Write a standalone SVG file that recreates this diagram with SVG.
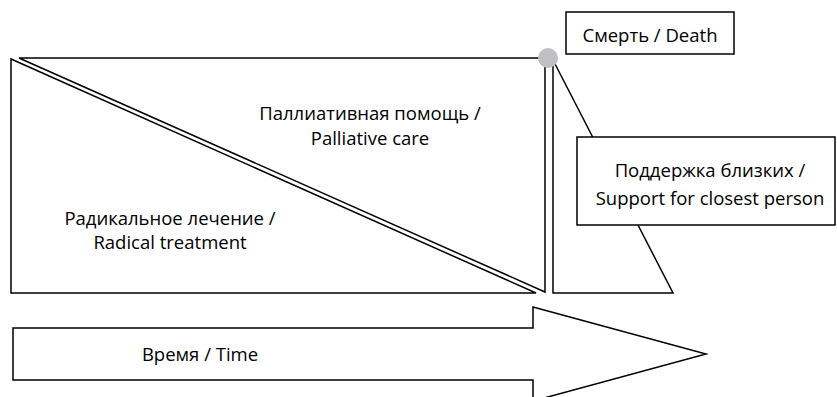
<svg xmlns="http://www.w3.org/2000/svg" width="837" height="397" viewBox="0 0 837 397">
<style>
.s{fill:#fff;stroke:#000;stroke-width:1.5;stroke-linejoin:miter}
.t{font-family:"Open Sans","Liberation Sans",sans-serif;font-size:18.5px;fill:#000;text-anchor:middle}
</style>
<rect width="837" height="397" fill="#fff"/>
<g id="radical">
<polygon class="s" points="11,59 11,293 536,293"/>
<text class="t" x="170" y="225">Радикальное лечение /</text>
<text class="t" x="170" y="249">Radical treatment</text>
</g>
<g id="palliative">
<polygon class="s" points="19,58 545,58 545,292"/>
<text class="t" x="370" y="120">Паллиативная помощь /</text>
<text class="t" x="370" y="145">Palliative care</text>
</g>
<g id="bereavement">
<polygon class="s" points="553,60 553,293 673,293"/>
</g>
<g id="death-point">
<circle cx="548" cy="58" r="10" fill="#c0c0c2"/>
</g>
<g id="death">
<rect class="s" x="566" y="12" width="168" height="42"/>
<text class="t" x="650" y="42">Смерть / Death</text>
</g>
<g id="support">
<rect class="s" x="577" y="137" width="258" height="88"/>
<text class="t" x="710" y="177">Поддержка близких /</text>
<text class="t" x="710" y="205">Support for closest person</text>
</g>
<g id="time">
<polygon class="s" points="13,328 533,328 533,307 706,354 533,401 533,380 13,380"/>
<text class="t" x="200" y="361">Время / Time</text>
</g>
<g id="connectors"></g>
</svg>
